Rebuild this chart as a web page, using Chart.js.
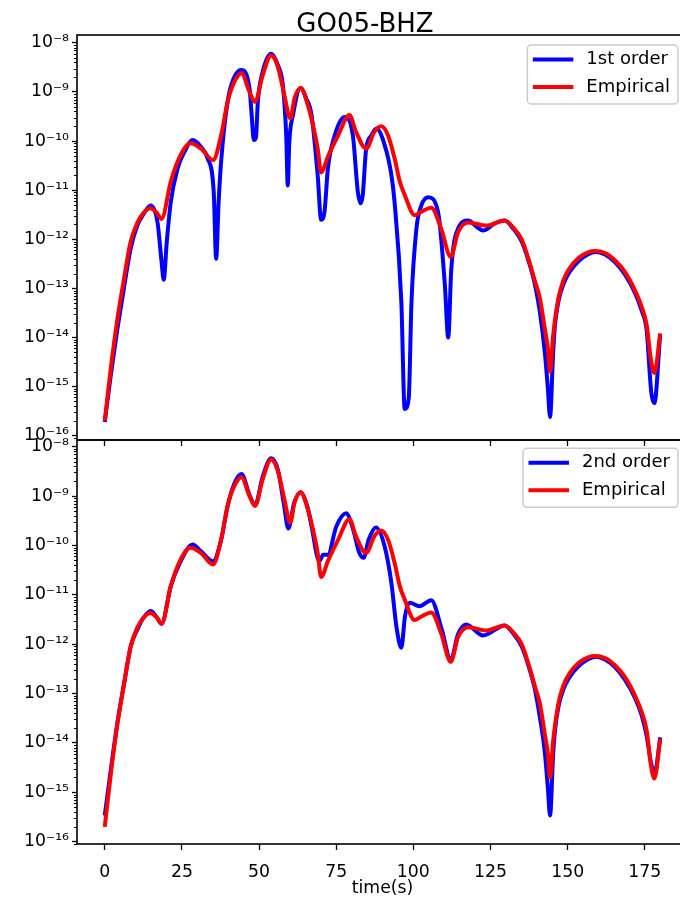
<!DOCTYPE html>
<html>
<head>
<meta charset="utf-8">
<script src="https://cdn.jsdelivr.net/npm/chart.js@4.4.0/dist/chart.umd.min.js"></script>
<style>
  html, body { margin: 0; padding: 0; background: #fff; overflow: hidden; width: 680px; height: 902px; }
  #wrap { position: relative; width: 680px; height: 902px; overflow: hidden; }
  canvas { position: absolute; left: 0; }
  #top { top: 0; }
  #bottom { top: 420px; }
</style>
</head>
<body>
<div id="wrap">
  <canvas id="top" width="700" height="460"></canvas>
  <canvas id="bottom" width="700" height="482"></canvas>
</div>
<script>
const stationName = 'GO05-BHZ'
const xTicks = [0, 25, 50, 75, 100, 125, 150, 175]
const yDecades = [-16, -15, -14, -13, -12, -11, -10, -9, -8]

// 1st order synthetic (top panel)
const tFirst = [
  0, 2, 4.1, 6.3, 8.4, 10.6, 12.5, 14.9, 17.1, 18.4,
  19.1, 20.1, 21.4, 23.6, 25.8, 28.5, 31.2, 33.3, 35.3, 36.1,
  36.9, 37.7, 39.8, 41.8, 44.2, 46.9, 47.6, 48.3, 49.0, 49.6,
  51.2, 53.9, 56.1, 57.7, 58.8, 59.3, 59.8, 61.0, 63.4, 65.3,
  67.0, 69.0, 70.1, 71.2, 72.3, 74.5, 77.7, 80.4, 82.0, 82.9,
  83.6, 84.7, 86.4, 88.0, 90.7, 92.9, 93.9, 96.1, 97.2, 98.5,
  99.4, 101.0, 102.6, 104.8, 108.0, 110.2, 111.3, 112.3, 114.5, 117.8,
  120.5, 122.6, 126.4, 129.6, 132.3, 135.1, 137.4, 139.4, 141.0, 142.6,
  143.6, 144.3, 145.3, 145.9, 147.0, 148.6, 150.5, 153.6, 156.8, 158.9,
  162.1, 165.4, 168.6, 171.9, 174.0, 175.6, 177.1, 178.1, 180
]
const vFirst = [
  1.9e-16, 1.8e-15, 1.5e-14, 1.1e-13, 6.5e-13, 1.95e-12, 3.2e-12, 4.9e-12, 2.2e-12, 3.5e-13,
  1.5e-13, 9e-13, 5.8e-12, 2.75e-11, 6e-11, 1.05e-10, 7.6e-11, 4.5e-11, 9.3e-12, 4e-13,
  5.7e-12, 3.8e-11, 6.3e-10, 1.9e-9, 2.8e-9, 1.2e-9, 3.4e-10, 1.05e-10, 1.2e-10, 6.3e-10,
  2.6e-9, 6e-9, 3.5e-9, 1.4e-9, 1.3e-10, 1.25e-11, 9.5e-11, 3.4e-10, 1.2e-9, 7.4e-10,
  3.4e-10, 2e-11, 2.5e-12, 3.6e-12, 2.75e-11, 1.3e-10, 3.1e-10, 1.3e-10, 9.3e-12, 5.4e-12,
  8e-12, 7e-11, 1.3e-10, 1.8e-10, 8.3e-11, 2e-11, 5.8e-12, 5.4e-14, 3.5e-16, 5.8e-16,
  5.4e-14, 1.66e-12, 4.9e-12, 7.2e-12, 3.6e-12, 1.2e-13, 1e-14, 2.5e-13, 1.66e-12, 2.4e-12,
  1.8e-12, 1.5e-12, 2.1e-12, 2.4e-12, 1.66e-12, 9e-13, 3.5e-13, 1.2e-13, 3.3e-14, 5e-15,
  9e-16, 2.4e-16, 5e-15, 1.8e-14, 5.4e-14, 1.2e-13, 2.1e-13, 3.6e-13, 5e-13, 5.5e-13,
  4.9e-13, 3.4e-13, 1.9e-13, 7.9e-14, 3.5e-14, 1.4e-14, 7.6e-16, 4.6e-16, 1.2e-14
]

// 2nd order synthetic (bottom panel)
const tSecond = [
  0, 2, 4.1, 6.3, 8.4, 10.6, 12.5, 14.9, 17.0, 18.4,
  21.4, 24.1, 28.5, 31.2, 35.1, 37.7, 39.8, 42.0, 44.3, 46.9,
  48.7, 51.2, 53.9, 56.1, 58.0, 59.5, 61.3, 63.4, 65.8, 67.2,
  69.5, 70.8, 72.3, 75.0, 78.2, 80.5, 82.5, 83.9, 85.5, 87.9,
  90.7, 92.9, 94.5, 96.1, 97.3, 98.8, 102.0, 105.8, 109.2, 112.1,
  114.5, 117.1, 122.6, 129.6, 132.3, 135.1, 137.4, 139.4, 141.0, 142.6,
  143.6, 144.3, 145.3, 145.9, 147.0, 148.6, 150.5, 153.6, 156.8, 159.3,
  162.1, 165.4, 168.6, 171.9, 174.0, 175.6, 177.0, 178.2, 180
]
const vSecond = [
  3.4e-16, 3e-15, 2.6e-14, 1.65e-13, 9e-13, 2e-12, 3.4e-12, 4.7e-12, 3.4e-12, 2.6e-12,
  1.5e-11, 4.1e-11, 1.05e-10, 7.6e-11, 4.8e-11, 1.3e-10, 6.2e-10, 1.8e-9, 2.8e-9, 1.05e-9,
  6.6e-10, 2.5e-9, 5.8e-9, 3.4e-9, 7.2e-10, 2.2e-10, 7e-10, 1.2e-9, 5.7e-10, 2.1e-10,
  4.8e-11, 6.5e-11, 6.5e-11, 2.4e-10, 4.5e-10, 2.1e-10, 7e-11, 5.6e-11, 1.3e-10, 2.3e-10,
  9.5e-11, 1.7e-11, 2.3e-12, 8.5e-13, 3.7e-12, 6.9e-12, 5.9e-12, 7.8e-12, 2e-12, 4.9e-13,
  1.6e-12, 2.5e-12, 1.5e-12, 2.4e-12, 1.66e-12, 9e-13, 3.5e-13, 1.2e-13, 3.3e-14, 6.5e-15,
  1.2e-15, 3.4e-16, 6e-15, 1.8e-14, 5.4e-14, 1.2e-13, 2.1e-13, 3.6e-13, 5e-13, 5.6e-13,
  4.9e-13, 3.4e-13, 1.9e-13, 8e-14, 3.6e-14, 1.4e-14, 4e-15, 2.5e-15, 1.3e-14
]

// empirical (same curve in both panels)
const tEmp = [
  0, 2, 4.1, 6.3, 8.4, 10.6, 12.5, 14.7, 16.8, 18.4,
  21.4, 24.1, 27.8, 31.2, 35.1, 37.7, 39.8, 42.0, 44.3, 46.9,
  48.7, 51.2, 53.9, 56.1, 58.2, 60.1, 61.5, 63.5, 65.8, 67.2,
  69.0, 70.1, 72.3, 75.6, 79.3, 81.4, 84.7, 87.4, 89.6, 91.8,
  93.9, 95.6, 97.2, 100.4, 102.5, 105.8, 109.0, 112.1, 114.5, 117.8,
  123.7, 129.6, 132.5, 135.1, 137.4, 139.4, 141.0, 142.6, 143.6, 144.3,
  145.3, 147.0, 148.6, 150.5, 153.6, 156.8, 158.9, 162.1, 165.4, 168.6,
  171.9, 174.0, 175.6, 177.0, 178.1, 180
]
const vEmp = [
  2e-16, 2.5e-15, 2.4e-14, 1.65e-13, 9e-13, 2.2e-12, 3.4e-12, 4.3e-12, 3.5e-12, 2.6e-12,
  1.5e-11, 4.5e-11, 9e-11, 7e-11, 4.1e-11, 1.3e-10, 6.3e-10, 1.6e-9, 2.4e-9, 1e-9,
  6.3e-10, 2.2e-9, 5.5e-9, 3.2e-9, 8.6e-10, 2.9e-10, 7.4e-10, 1.2e-9, 5.4e-10, 2.5e-10,
  7e-11, 2.3e-11, 4.8e-11, 1.3e-10, 3.4e-10, 1.55e-10, 7e-11, 1.55e-10, 2e-10, 1.3e-10,
  4.5e-11, 1.5e-11, 8e-12, 3.1e-12, 3.6e-12, 4.4e-12, 1.66e-12, 4.4e-13, 1.4e-12, 2.2e-12,
  1.9e-12, 2.4e-12, 1.7e-12, 1e-12, 3.8e-13, 1.4e-13, 6.3e-14, 1.5e-14, 6e-15, 2e-15,
  1.1e-14, 6.3e-14, 1.45e-13, 2.5e-13, 4.2e-13, 5.5e-13, 5.75e-13, 5.25e-13, 3.7e-13, 2.15e-13,
  8.9e-14, 4.2e-14, 1.8e-14, 3.5e-15, 1.9e-15, 1.2e-14
]

const FONT = 'DejaVu Sans'
const SUP = {'-': '\u207B', '0': '\u2070', '1': '\u00B9', '2': '\u00B2', '3': '\u00B3', '4': '\u2074',
  '5': '\u2075', '6': '\u2076', '7': '\u2077', '8': '\u2078', '9': '\u2079'}

function powLabel(v) {
  const e = Math.round(Math.log10(v))
  return '10' + String(e).split('').map(c => SUP[c]).join('')
}

function series(label, ts, vs, color, order) {
  return {
    label: label,
    data: ts.map((t, i) => ({x: t, y: vs[i]})),
    borderColor: color,
    backgroundColor: color,
    borderWidth: 4,
    borderJoinStyle: 'round',
    pointRadius: 0,
    cubicInterpolationMode: 'monotone',
    fill: false,
    order: order
  }
}

// frame + minor log ticks
const axesDeco = {
  id: 'axesDeco',
  afterDraw(chart) {
    const {ctx, chartArea: a} = chart
    const y = chart.scales.y
    ctx.save()
    ctx.strokeStyle = '#000'
    ctx.lineWidth = 1
    for (let e = -17; e <= -8; e++) {
      for (let m = 2; m <= 9; m++) {
        const v = m * Math.pow(10, e)
        if (v < y.min || v > y.max) continue
        const py = Math.round(y.getPixelForValue(v)) + 0.5
        ctx.beginPath()
        ctx.moveTo(a.left - 3, py)
        ctx.lineTo(a.left, py)
        ctx.stroke()
      }
    }
    ctx.lineWidth = 1.6
    ctx.strokeRect(a.left, a.top, a.right - a.left, a.bottom - a.top)
    ctx.restore()
  }
}

const boxLegend = {
  id: 'boxLegend',
  afterDraw(chart, args, opts) {
    const {ctx, chartArea: a} = chart
    ctx.save()
    ctx.font = '18px "' + FONT + '"'
    const tw = Math.max(...opts.items.map(it => ctx.measureText(it.text).width))
    const w = tw + 67, h = 59
    const x = a.right - 10 - w, y = a.top + opts.top
    ctx.fillStyle = 'rgba(255,255,255,0.8)'
    ctx.strokeStyle = '#cccccc'
    ctx.lineWidth = 1.5
    ctx.beginPath()
    ctx.roundRect(x, y, w, h, 4)
    ctx.fill()
    ctx.stroke()
    opts.items.forEach((it, i) => {
      const ly = y + 14.5 + i * 27.5
      ctx.strokeStyle = it.color
      ctx.lineWidth = 4
      ctx.beginPath()
      ctx.moveTo(x + 5.5, ly)
      ctx.lineTo(x + 46, ly)
      ctx.stroke()
      ctx.fillStyle = '#000'
      ctx.textBaseline = 'middle'
      ctx.textAlign = 'left'
      ctx.fillText(it.text, x + 59, ly)
    })
    ctx.restore()
  }
}

const suptitle = {
  id: 'suptitle',
  afterDraw(chart, args, opts) {
    if (!opts.text) return
    const ctx = chart.ctx
    ctx.save()
    ctx.font = '26px "' + FONT + '"'
    ctx.fillStyle = '#000'
    ctx.textAlign = 'center'
    ctx.textBaseline = 'alphabetic'
    ctx.fillText(opts.text, 365, 31.5)
    ctx.restore()
  }
}

function makeOptions(yMin, yMax, padTop, showX, legendItems, legendTop, title) {
  return {
    responsive: false,
    animation: false,
    events: [],
    layout: {padding: {top: padTop, left: 0, right: 12, bottom: 0}},
    plugins: {
      legend: {display: false},
      tooltip: {enabled: false},
      boxLegend: {items: legendItems, top: legendTop},
      suptitle: {text: title}
    },
    scales: {
      x: {
        type: 'linear',
        min: -9,
        max: 189,
        afterBuildTicks: s => { s.ticks = xTicks.map(v => ({value: v})) },
        afterFit: s => { s.height = showX ? 58 : 20 },
        ticks: {
          display: showX,
          autoSkip: false,
          maxRotation: 0,
          padding: 12,
          color: '#000',
          font: {family: FONT, size: 17.3}
        },
        grid: {drawOnChartArea: false, tickLength: 6, color: '#000', tickWidth: 1.3},
        border: {display: false},
        title: {
          display: showX,
          text: 'time(s)',
          color: '#000',
          font: {family: FONT, size: 17.3},
          padding: {top: 0, bottom: 3}
        }
      },
      y: {
        type: 'logarithmic',
        min: yMin,
        max: yMax,
        afterBuildTicks: s => { s.ticks = yDecades.map(e => ({value: Math.pow(10, e)})) },
        afterFit: s => { s.width = 77 },
        ticks: {
          autoSkip: false,
          padding: 3,
          color: '#000',
          font: {family: FONT, size: 17.3},
          callback: v => powLabel(v)
        },
        grid: {drawOnChartArea: false, tickLength: 5, color: '#000', tickWidth: 1.3},
        border: {display: false}
      }
    }
  }
}

new Chart(document.getElementById('top'), {
  type: 'line',
  data: {
    datasets: [
      series('1st order', tFirst, vFirst, '#0000ff', 2),
      series('Empirical', tEmp, vEmp, '#ff0000', 1)
    ]
  },
  options: makeOptions(Math.pow(10, -16.088), Math.pow(10, -7.84), 35, false,
    [{text: '1st order', color: '#0000ff'}, {text: 'Empirical', color: '#ff0000'}], 10, stationName),
  plugins: [axesDeco, boxLegend, suptitle]
})

new Chart(document.getElementById('bottom'), {
  type: 'line',
  data: {
    datasets: [
      series('2nd order', tSecond, vSecond, '#0000ff', 2),
      series('Empirical', tEmp, vEmp, '#ff0000', 1)
    ]
  },
  options: makeOptions(Math.pow(10, -16.026), Math.pow(10, -7.865), 20, true,
    [{text: '2nd order', color: '#0000ff'}, {text: 'Empirical', color: '#ff0000'}], 8.3, null),
  plugins: [axesDeco, boxLegend, suptitle]
})
</script>
</body>
</html>
